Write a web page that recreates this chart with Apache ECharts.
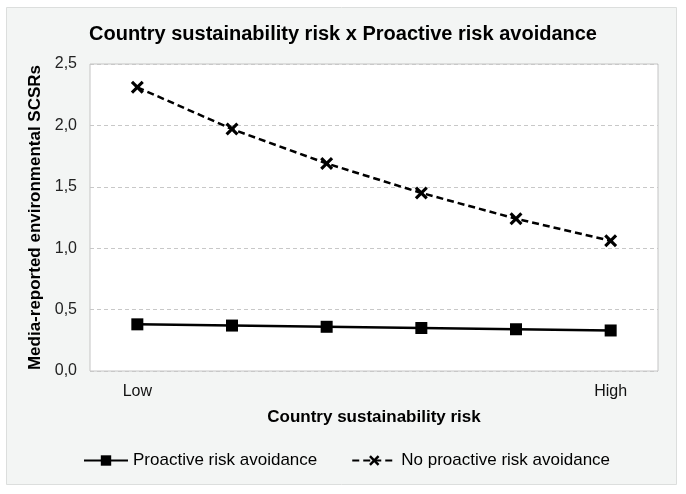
<!DOCTYPE html>
<html>
<head>
<meta charset="utf-8">
<script src="https://cdn.jsdelivr.net/npm/echarts@6/dist/echarts.min.js"></script>
<style>
html,body{margin:0;padding:0;background:#fff;}
#c{width:686px;height:494px;}
</style>
</head>
<body>
<div id="c"></div>
<script>
const riskLevels = [1, 2, 3, 4, 5, 6];
const xTickLabels = ['Low', '', '', '', '', 'High'];
const proactive = [0.38, 0.37, 0.36, 0.35, 0.34, 0.33];
const noProactive = [2.31, 1.97, 1.69, 1.45, 1.24, 1.06];
const yTicks = [0, 0.5, 1.0, 1.5, 2.0, 2.5];

const xSym = 'path://M0,17L17,0L50,33L83,0L100,17L67,50L100,83L83,100L50,67L17,100L0,83L33,50Z';
const font = 'Liberation Sans, Arial, sans-serif';

const chart = echarts.init(document.getElementById('c'), null, {renderer: 'canvas'});
chart.setOption({
  backgroundColor: '#ffffff',
  animation: false,
  graphic: [{
    type: 'rect', z: -10, silent: true,
    shape: {x: 6.5, y: 7.5, width: 670, height: 477},
    style: {fill: '#f3f5f4', stroke: '#dcdedd', lineWidth: 1}
  }],
  title: {
    text: 'Country sustainability risk x Proactive risk avoidance',
    left: 'center', top: 19,
    textStyle: {fontFamily: font, fontSize: 20, fontWeight: 'bold', color: '#000'}
  },
  grid: {
    left: 90, top: 64, right: 28, bottom: 123,
    show: true, backgroundColor: '#ffffff', borderColor: '#c4c4c4', borderWidth: 1
  },
  legend: {
    left: 83, top: 452, padding: 0, itemWidth: 44, itemHeight: 13, itemGap: 34,
    textStyle: {fontFamily: font, fontSize: 17, color: '#000'},
    data: ['Proactive risk avoidance', 'No proactive risk avoidance']
  },
  xAxis: {
    type: 'category', data: riskLevels, boundaryGap: true,
    name: 'Country sustainability risk', nameLocation: 'middle', nameGap: 38,
    nameTextStyle: {fontFamily: font, fontSize: 17, fontWeight: 'bold', color: '#000'},
    axisLine: {show: false}, axisTick: {show: false},
    axisLabel: {
      margin: 13, fontFamily: font, fontSize: 16, color: '#111',
      interval: 0,
      formatter: (v, i) => xTickLabels[i]
    },
    splitLine: {show: false}
  },
  yAxis: {
    type: 'value', min: yTicks[0], max: yTicks[yTicks.length - 1], interval: 0.5,
    name: 'Media-reported environmental SCSRs', nameLocation: 'middle', nameGap: 44,
    nameTextStyle: {fontFamily: font, fontSize: 17, fontWeight: 'bold', color: '#000'},
    axisLine: {show: false}, axisTick: {show: false},
    axisLabel: {
      margin: 13, fontFamily: font, fontSize: 16, color: '#222',
      formatter: v => v.toFixed(1).replace('.', ',')
    },
    splitLine: {show: true, lineStyle: {color: '#c8c8c8', type: [4, 3], width: 1}}
  },
  series: [
    {
      name: 'Proactive risk avoidance', type: 'line', data: proactive,
      symbol: 'rect', symbolSize: 12,
      lineStyle: {color: '#000', width: 2.5, type: 'solid'},
      itemStyle: {color: '#000'}
    },
    {
      name: 'No proactive risk avoidance', type: 'line', data: noProactive,
      symbol: xSym, symbolSize: 13,
      lineStyle: {color: '#000', width: 2.5, type: [7, 4]},
      itemStyle: {color: '#000'}
    }
  ]
});
</script>
</body>
</html>
